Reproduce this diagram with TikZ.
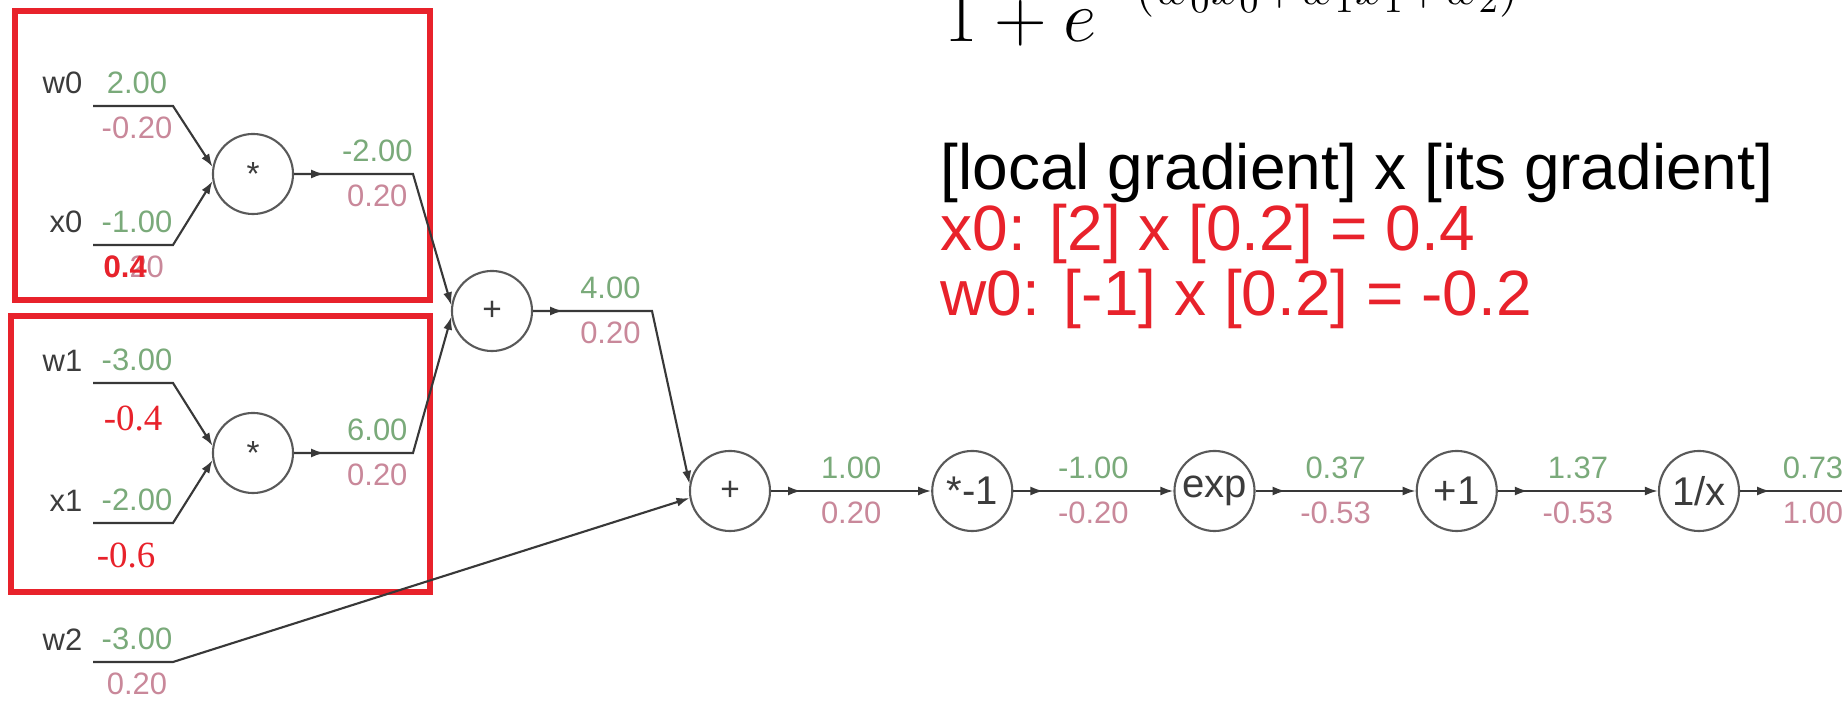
\documentclass[tikz,border=0pt]{standalone}
\usepackage[no-math]{fontspec}
\setmainfont{Liberation Sans}
\newfontfamily\timesfont{Liberation Serif}
\usetikzlibrary{arrows.meta,positioning,decorations.markings}
\definecolor{ink}{HTML}{3C3C3C}
\definecolor{wirecol}{HTML}{383838}
\definecolor{fwd}{HTML}{7AAA7A}
\definecolor{bwd}{HTML}{C9889A}
\definecolor{hilite}{HTML}{E8222B}
\tikzset{
  op/.style={circle,draw=ink!85,line width=0.6pt,minimum size=0.8cm,inner sep=0pt,
             text=ink,font=\fontsize{9.5}{10}\selectfont},
  bigop/.style={op,font=\fontsize{11.4}{12}\selectfont},
  val/.style={anchor=south,inner sep=0pt,yshift=0.11cm,text=fwd,font=\fontsize{8.8}{10}\selectfont},
  grad/.style={anchor=north,inner sep=0pt,yshift=-0.10cm,text=bwd,font=\fontsize{8.8}{10}\selectfont},
  inname/.style={anchor=south east,inner sep=0pt,xshift=-0.1cm,yshift=0.11cm,text=ink,
                 font=\fontsize{8.8}{10}\selectfont},
  wire/.style={draw=wirecol,line width=0.6pt,-{Latex[length=1.3mm,width=0.9mm]}},
  tapped/.style={postaction={decorate},decoration={markings,
                 mark=at position 0.3cm with {\arrow{Latex[length=1.3mm,width=0.9mm]}}}},
  redbox/.style={draw=hilite,line width=1.8pt},
  redval/.style={text=hilite,inner sep=0pt,font=\timesfont\fontsize{10.5}{12}\selectfont},
  note/.style={anchor=base west,inner sep=0pt,font=\fontsize{18.2}{20}\selectfont}
}

\begin{document}
\begin{tikzpicture}[x=0.01cm,y=-0.01cm]
  \clip (0,0) rectangle (1842,701);
  \fill[white] (0,0) rectangle (1842,701);

  % the two groups that are worked out by hand
  \draw[redbox] (15,11) rectangle (430,300);
  \draw[redbox] (11,316) rectangle (430,592);

  % formula, cut at the top
  \node[anchor=base west,inner sep=0pt] (denom) at (944,42)
       {\fontsize{21}{25}\selectfont$1+e^{\raisebox{3pt}{$\scriptstyle-(w_0x_0+w_1x_1+w_2)$}}$};

  % inputs
  \coordinate (w0) at (93,106);  \coordinate (w0k) at (173,106);
  \coordinate (x0) at (93,245);  \coordinate (x0k) at (173,245);
  \coordinate (w1) at (93,383);  \coordinate (w1k) at (173,383);
  \coordinate (x1) at (93,523);  \coordinate (x1k) at (173,523);
  \coordinate (w2) at (93,662);  \coordinate (w2k) at (173,662);
  \node[inname] (w0name) at (w0) {w0};
  \node[inname] (x0name) at (x0) {x0};
  \node[inname] (w1name) at (w1) {w1};
  \node[inname] (x1name) at (x1) {x1};
  \node[inname] (w2name) at (w2) {w2};

  % gates
  \node[op] (m1) at (253,174) {\raisebox{-0.22em}{*}};
  \node[op] (m2) at (253,453) {\raisebox{-0.22em}{*}};
  \node[op] (a1) at (492,311) {+};
  \node[op] (a2) at (730,491) {+};
  \node[bigop,right=1.6cm of a2] (neg) {*-1};
  \node[bigop,right=1.6cm of neg] (ex) {exp};
  \node[bigop,right=1.6cm of ex] (inc) {+1};
  \node[bigop,right=1.6cm of inc] (inv) {1/x};
  \coordinate (fout) at (1886,491);

  \coordinate (m1k) at (413,174);
  \coordinate (m2k) at (413,453);
  \coordinate (a1k) at (652,311);

  % wires into the first gates
  \draw[wire] (w0) -- (w0k) node[pos=.55,val]{2.00} node[pos=.55,grad]{-0.20} -- (m1.170);
  \draw[wire] (x0) -- (x0k) node[pos=.55,val]{-1.00} -- (m1.190);
  \draw[wire] (w1) -- (w1k) node[pos=.55,val]{-3.00} -- (m2.170);
  \draw[wire] (x1) -- (x1k) node[pos=.55,val]{-2.00} -- (m2.190);
  \draw[wire] (w2) -- (w2k) node[pos=.55,val]{-3.00} node[pos=.55,grad]{0.20} -- (a2.190);

  % hand-worked gradients
  \node[grad,anchor=north west] (x0grad) at (103,245) {0.20};
  \node[grad,anchor=north west,text=hilite,font=\fontsize{8.8}{10}\selectfont\bfseries] (x0fix) at (103,245) {0.4};
  \node[redval] (w1fix) at (133,418) {-0.4};
  \node[redval] (x1fix) at (126,555) {-0.6};

  % inner wires
  \draw[wire,tapped] (m1) -- (m1k) node[pos=.7,val]{-2.00} node[pos=.7,grad]{0.20} -- (a1.172);
  \draw[wire,tapped] (m2) -- (m2k) node[pos=.7,val]{6.00} node[pos=.7,grad]{0.20} -- (a1.188);
  \draw[wire,tapped] (a1) -- (a1k) node[pos=.65,val]{4.00} node[pos=.65,grad]{0.20} -- (a2.170);
  \draw[wire,tapped] (a2) -- (neg) node[midway,val]{1.00} node[midway,grad]{0.20};
  \draw[wire,tapped] (neg) -- (ex) node[midway,val]{-1.00} node[midway,grad]{-0.20};
  \draw[wire,tapped] (ex) -- (inc) node[midway,val]{0.37} node[midway,grad]{-0.53};
  \draw[wire,tapped] (inc) -- (inv) node[midway,val]{1.37} node[midway,grad]{-0.53};
  \draw[wire,tapped] (inv) -- (fout) node[midway,val]{0.73} node[midway,grad]{1.00};

  % chain rule note
  \node[note] (rule) at (940,190) {[local gradient] x [its gradient]};
  \node[note,text=hilite] (xrule) at (940,251) {x0: [2] x [0.2] = 0.4};
  \node[note,text=hilite] (wrule) at (940,316) {w0: [-1] x [0.2] = -0.2};
\end{tikzpicture}
\end{document}
